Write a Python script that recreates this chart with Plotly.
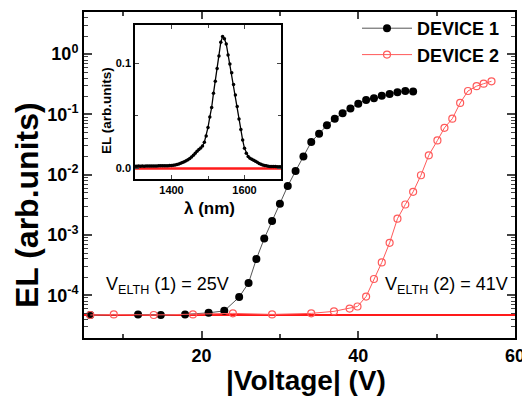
import plotly.graph_objects as go

# ---------------- data ----------------
dev1_v = [5.8, 11.9, 14.8, 17.9, 20.9, 22.9, 24.8, 26.0, 27.0, 28.0, 29.0, 30.0, 31.0, 32.0, 33.0,
          34.0, 35.0, 36.0, 37.0, 38.0, 39.0, 40.0, 41.0, 42.0, 43.0, 44.0, 45.0, 46.0, 47.0]
dev1_el = [4.7e-5, 4.8e-5, 4.7e-5, 4.8e-5, 5.1e-5, 5.5e-5, 9.3e-5, 1.6e-4, 4.0e-4, 8.7e-4, 1.7e-3,
           3.3e-3, 6.5e-3, 1.15e-2, 2.0e-2, 3.5e-2, 4.8e-2, 6.6e-2, 8.5e-2, 0.105, 0.126, 0.151,
           0.174, 0.186, 0.204, 0.219, 0.234, 0.245, 0.240]

dev2_v = [5.8, 8.8, 13.9, 18.9, 24.0, 29.0, 34.0, 36.9, 38.9, 39.9, 41.0, 42.0, 43.0, 44.0, 45.0,
          46.0, 47.0, 48.0, 49.0, 50.1, 51.0, 52.0, 53.0, 54.0, 55.1, 56.0, 57.0]
dev2_el = [4.7e-5, 4.8e-5, 4.7e-5, 4.8e-5, 5.0e-5, 4.8e-5, 5.0e-5, 5.4e-5, 6.0e-5, 6.5e-5, 9.5e-5,
           1.86e-4, 3.5e-4, 7.4e-4, 1.86e-3, 3.2e-3, 5.2e-3, 9.8e-3, 2.1e-2, 3.7e-2, 6.0e-2,
           8.5e-2, 0.155, 0.245, 0.295, 0.324, 0.355]

floor_v = [5, 60]
floor_el = [4.7e-5, 4.7e-5]

wl_nm = [1300, 1305, 1310, 1315, 1320, 1325, 1330, 1335, 1340, 1345, 1350, 1355, 1360, 1365, 1370,
         1375, 1380, 1385, 1390, 1395, 1400, 1405, 1410, 1415, 1420, 1425, 1430, 1435, 1440, 1445,
         1450, 1455, 1460, 1465, 1470, 1475, 1480, 1485, 1490, 1495, 1500, 1505, 1510, 1515, 1520,
         1525, 1530, 1535, 1540, 1545, 1550, 1555, 1560, 1565, 1570, 1575, 1580, 1585, 1590, 1595,
         1600, 1605, 1610, 1615, 1620, 1625, 1630, 1635, 1640, 1645, 1650, 1655, 1660, 1665, 1670,
         1675, 1680, 1685, 1690, 1695, 1700]
spec_el = [0.0022, 0.0022, 0.0023, 0.0022, 0.0023, 0.0022, 0.0023, 0.0023, 0.0024, 0.0023, 0.0024,
           0.0024, 0.0024, 0.0025, 0.0025, 0.0025, 0.0026, 0.0026, 0.0027, 0.0028, 0.0029, 0.0031,
           0.0034, 0.0038, 0.0043, 0.0049, 0.0056, 0.0064, 0.0073, 0.0084, 0.0096, 0.0110, 0.0127,
           0.0145, 0.0163, 0.0180, 0.0195, 0.0215, 0.0250, 0.0310, 0.0390, 0.0490, 0.0580, 0.0715,
           0.0830, 0.0952, 0.1070, 0.1200, 0.1255, 0.1235, 0.1185, 0.1080, 0.0995, 0.0910, 0.0800,
           0.0700, 0.0589, 0.0470, 0.0370, 0.0270, 0.0192, 0.0145, 0.0115, 0.0098, 0.0087, 0.0078,
           0.0070, 0.0060, 0.0048, 0.0040, 0.0033, 0.0028, 0.0025, 0.0022, 0.0020, 0.0019, 0.0018,
           0.0018, 0.0017, 0.0017, 0.0017]
spec_zero_nm = [1300, 1700]
spec_zero_el = [0.0, 0.0]

y_tickvals = [1e-4, 1e-3, 1e-2, 1e-1, 1]
y_ticktext = ["10<sup>-4</sup>", "10<sup>-3</sup>", "10<sup>-2</sup>", "10<sup>-1</sup>", "10<sup>0</sup>"]
x_tickvals = [20, 40, 60]
inset_x_tickvals = [1400, 1600]
inset_y_tickvals = [0.0, 0.1]
inset_y_ticktext = ["0.0", "0.1"]

FONT = "Liberation Sans, Arial, Helvetica, sans-serif"
RED = "#ff1a1a"
RED2 = "#ff5a5a"

fig = go.Figure()

fig.add_trace(go.Scatter(x=floor_v, y=floor_el, mode="lines",
                         line=dict(color=RED, width=2), showlegend=False, hoverinfo="skip"))
fig.add_trace(go.Scatter(x=dev1_v, y=dev1_el, mode="lines+markers", name="DEVICE 1",
                         line=dict(color="#555555", width=1),
                         marker=dict(color="black", size=8, symbol="circle")))
fig.add_trace(go.Scatter(x=dev2_v, y=dev2_el, mode="lines+markers", name="DEVICE 2",
                         line=dict(color=RED2, width=1),
                         marker=dict(color=RED2, size=7, symbol="circle-open", line=dict(width=1.2))))

# inset
fig.add_trace(go.Scatter(x=spec_zero_nm, y=spec_zero_el, mode="lines", xaxis="x2", yaxis="y2",
                         line=dict(color=RED, width=2.5), showlegend=False, hoverinfo="skip"))
fig.add_trace(go.Scatter(x=wl_nm, y=spec_el, mode="lines+markers", xaxis="x2", yaxis="y2",
                         line=dict(color="black", width=1.3),
                         marker=dict(color="black", size=3.5), showlegend=False))

L, R, T, B = 84, 7, 12, 63
W, H = 522, 401
pw, ph = W - L - R, H - T - B

def px_x(p):
    return (p - L) / pw

def px_y(p):
    return (H - B - p) / ph

fig.update_layout(
    width=W, height=H,
    margin=dict(l=L, r=R, t=T, b=B, pad=0, autoexpand=False),
    paper_bgcolor="white", plot_bgcolor="white",
    font=dict(family=FONT, color="black"),
    showlegend=True,
    legend=dict(x=px_x(357), y=px_y(10), xanchor="left", yanchor="top",
                bgcolor="rgba(0,0,0,0)", itemwidth=50, tracegroupgap=0,
                font=dict(size=18, family=FONT, weight="bold"), itemsizing="trace"),
    xaxis=dict(range=[5, 60], tickmode="array", tickvals=x_tickvals, automargin=False,
               ticklabeloverflow="allow",
               ticks="inside", ticklen=7, tickwidth=1.5, mirror="ticks",
               showline=True, linewidth=2, linecolor="black", showgrid=False, zeroline=False,
               minor=dict(tickvals=[10, 30, 50], ticks="inside", ticklen=4, tickwidth=1.5),
               tickfont=dict(size=18, family=FONT, weight="bold")),
    yaxis=dict(type="log", range=[-4.71, 0.70], tickmode="array", tickvals=y_tickvals,
               ticktext=y_ticktext, ticks="inside", ticklen=8, tickwidth=1.5, mirror="ticks",
               automargin=False,
               showline=True, linewidth=2, linecolor="black", showgrid=False, zeroline=False,
               minor=dict(dtick="D1", ticks="inside", ticklen=4, tickwidth=1),
               tickfont=dict(size=18, family=FONT, weight="bold")),
    xaxis2=dict(domain=[px_x(135), px_x(281)], anchor="y2", range=[1300, 1700],
                automargin=False,
                tickmode="array", tickvals=inset_x_tickvals, ticks="inside", ticklen=4,
                mirror="ticks", showline=True, linewidth=1.5, linecolor="black",
                showgrid=False, zeroline=False,
                minor=dict(tickvals=[1300, 1500, 1700], ticks="inside", ticklen=3),
                tickfont=dict(size=11, family=FONT, weight="bold")),
    yaxis2=dict(domain=[px_y(179), px_y(25)], anchor="x2", range=[-0.010, 0.1365],
                automargin=False,
                tickmode="array", tickvals=inset_y_tickvals, ticktext=inset_y_ticktext,
                ticks="inside", ticklen=4, mirror="ticks", showline=True, linewidth=1.5,
                linecolor="black", showgrid=False, zeroline=False,
                minor=dict(tickvals=[0.05], ticks="inside", ticklen=3),
                tickfont=dict(size=11, family=FONT, weight="bold")),
    annotations=[
        dict(text="<b>|Voltage| (V)</b>", xref="paper", yref="paper",
             x=px_x(306), y=px_y(380), xanchor="center", yanchor="middle", showarrow=False,
             font=dict(size=28, family=FONT)),
        dict(text="<b>EL (arb.units)</b>", xref="paper", yref="paper", textangle=-90,
             x=px_x(27), y=px_y(205), xanchor="center", yanchor="middle", showarrow=False,
             font=dict(size=32, family=FONT)),
        dict(text="<b>λ (nm)</b>", xref="paper", yref="paper",
             x=px_x(209), y=px_y(208), xanchor="center", yanchor="middle", showarrow=False,
             font=dict(size=17, family=FONT)),
        dict(text="<b>EL (arb.units)</b>", xref="paper", yref="paper", textangle=-90,
             x=px_x(106), y=px_y(111), xanchor="center", yanchor="middle", showarrow=False,
             font=dict(size=13.5, family=FONT)),
        dict(text="V<sub>ELTH</sub> (1) = 25V", xref="paper", yref="paper",
             x=px_x(104), y=px_y(285), xanchor="left", yanchor="middle", showarrow=False,
             font=dict(size=18, family=FONT)),
        dict(text="V<sub>ELTH</sub> (2) = 41V", xref="paper", yref="paper",
             x=px_x(383), y=px_y(285), xanchor="left", yanchor="middle", showarrow=False,
             font=dict(size=18, family=FONT)),
    ],
)

fig.write_html("out.html", config={"displayModeBar": False},
               post_script="document.body.style.margin='0';document.body.style.padding='0';")
